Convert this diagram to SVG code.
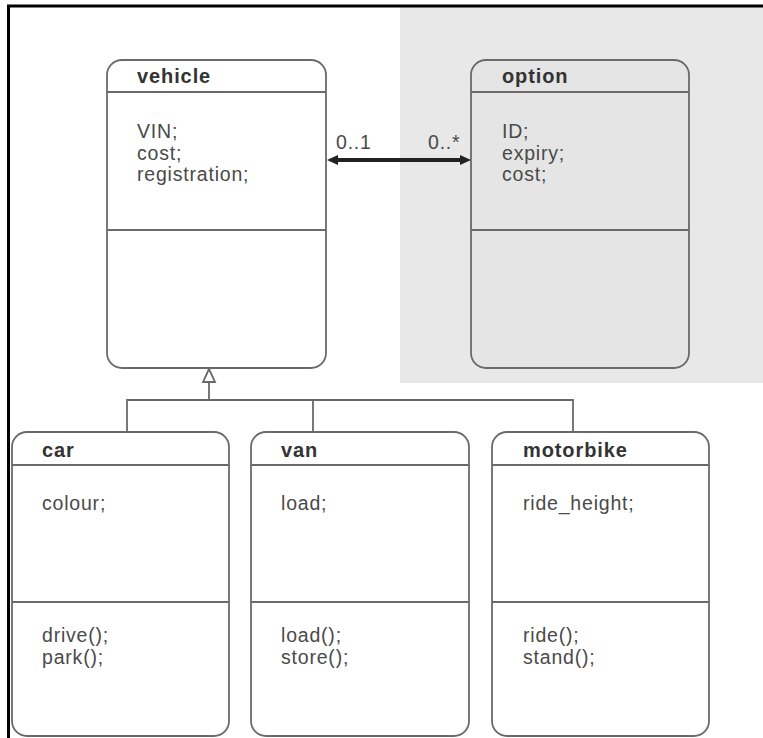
<svg xmlns="http://www.w3.org/2000/svg" width="763" height="738" viewBox="0 0 763 738">
<style>
.box{fill:#ffffff;stroke:#6a6a6a;stroke-width:1.8}
.gbox{fill:#e5e5e5;stroke:#6a6a6a;stroke-width:1.8}
.sep{stroke:#6a6a6a;stroke-width:1.8}
.title{font-family:"Liberation Sans",Arial,sans-serif;font-size:20px;font-weight:bold;fill:#333;letter-spacing:0.9px}
.attr{font-family:"Liberation Sans",Arial,sans-serif;font-size:19.5px;fill:#4a4a4a;letter-spacing:0.8px}
.conn{stroke:#6a6a6a;stroke-width:1.8;fill:none}
.assoc{stroke:#222;stroke-width:4;fill:none}
</style>
<rect x="0" y="0" width="763" height="738" fill="#ffffff"/>
<rect x="400" y="7" width="363" height="376" fill="#e8e8e8"/>
<line x1="7" y1="6" x2="763" y2="6" stroke="#000" stroke-width="3"/>
<line x1="8.5" y1="5" x2="8.5" y2="738" stroke="#000" stroke-width="3"/>

<g id="vehicle">
<rect class="box" x="107" y="60" width="219" height="308" rx="15"/>
<line class="sep" x1="107" y1="92" x2="326" y2="92"/>
<line class="sep" x1="107" y1="230" x2="326" y2="230"/>
<text class="title" x="137" y="83">vehicle</text>
<text class="attr" x="137" y="138">VIN;</text>
<text class="attr" x="137" y="159.5">cost;</text>
<text class="attr" x="137" y="181">registration;</text>
</g>

<g id="option">
<rect class="gbox" x="471" y="60" width="218" height="308" rx="15"/>
<line class="sep" x1="471" y1="92" x2="689" y2="92"/>
<line class="sep" x1="471" y1="230" x2="689" y2="230"/>
<text class="title" x="502" y="83">option</text>
<text class="attr" x="502" y="138">ID;</text>
<text class="attr" x="502" y="159.5">expiry;</text>
<text class="attr" x="502" y="181">cost;</text>
</g>

<g id="car">
<rect class="box" x="12" y="432" width="217" height="304" rx="15"/>
<line class="sep" x1="12" y1="465" x2="229" y2="465"/>
<line class="sep" x1="12" y1="602" x2="229" y2="602"/>
<text class="title" x="42" y="457">car</text>
<text class="attr" x="42" y="510">colour;</text>
<text class="attr" x="42" y="642">drive();</text>
<text class="attr" x="42" y="663.5">park();</text>
</g>

<g id="van">
<rect class="box" x="251" y="432" width="218" height="304" rx="15"/>
<line class="sep" x1="251" y1="465" x2="469" y2="465"/>
<line class="sep" x1="251" y1="602" x2="469" y2="602"/>
<text class="title" x="281" y="457">van</text>
<text class="attr" x="281" y="510">load;</text>
<text class="attr" x="281" y="642">load();</text>
<text class="attr" x="281" y="663.5">store();</text>
</g>

<g id="motorbike">
<rect class="box" x="492" y="432" width="217" height="304" rx="15"/>
<line class="sep" x1="492" y1="465" x2="709" y2="465"/>
<line class="sep" x1="492" y1="602" x2="709" y2="602"/>
<text class="title" x="523" y="457">motorbike</text>
<text class="attr" x="523" y="510">ride_height;</text>
<text class="attr" x="523" y="642">ride();</text>
<text class="attr" x="523" y="663.5">stand();</text>
</g>

<g id="connectors">
<line class="assoc" x1="335" y1="160" x2="462" y2="160"/>
<polygon points="327,160 338,155 338,165" fill="#222"/>
<polygon points="471,160 460,155 460,165" fill="#222"/>
<text class="attr" x="336" y="149">0..1</text>
<text class="attr" x="428" y="149">0..*</text>
<polyline class="conn" points="127,432 127,400 573,400 573,432"/>
<line class="conn" x1="313" y1="400" x2="313" y2="432"/>
<line class="conn" x1="209" y1="400" x2="209" y2="382"/>
<polygon class="conn" points="209,369 203,382 215,382" fill="#ffffff"/>
</g>
</svg>
